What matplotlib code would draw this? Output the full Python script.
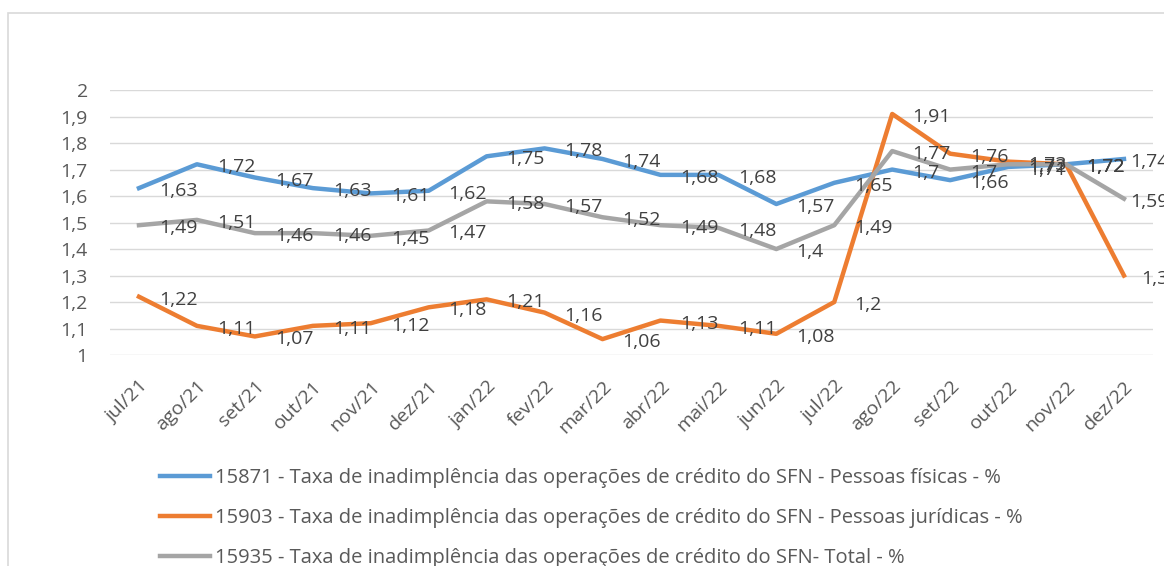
import matplotlib.pyplot as plt
from matplotlib.patches import Rectangle

plt.rcParams['font.family'] = ['Open Sans', 'DejaVu Sans']

## Data
meses = ['jul/21', 'ago/21', 'set/21', 'out/21', 'nov/21', 'dez/21',
         'jan/22', 'fev/22', 'mar/22', 'abr/22', 'mai/22', 'jun/22',
         'jul/22', 'ago/22', 'set/22', 'out/22', 'nov/22', 'dez/22']
pf = [1.63, 1.72, 1.67, 1.63, 1.61, 1.62, 1.75, 1.78, 1.74, 1.68, 1.68, 1.57,
      1.65, 1.70, 1.66, 1.71, 1.72, 1.74]
pj = [1.22, 1.11, 1.07, 1.11, 1.12, 1.18, 1.21, 1.16, 1.06, 1.13, 1.11, 1.08,
      1.20, 1.91, 1.76, 1.73, 1.72, 1.30]
total = [1.49, 1.51, 1.46, 1.46, 1.45, 1.47, 1.58, 1.57, 1.52, 1.49, 1.48, 1.40,
         1.49, 1.77, 1.70, 1.72, 1.72, 1.59]
nomes = ['15871 - Taxa de inadimplência das operações de crédito do SFN - Pessoas físicas - %',
         '15903 - Taxa de inadimplência das operações de crédito do SFN - Pessoas jurídicas - %',
         '15935 - Taxa de inadimplência das operações de crédito do SFN- Total - %']
cores = ['#5B9BD5', '#ED7D31', '#A5A5A5']
yticks = [1, 1.1, 1.2, 1.3, 1.4, 1.5, 1.6, 1.7, 1.8, 1.9, 2]

txt_cor = '#595959'
ftsz = 14 # font size
lgsz = 14.5 # legend font size
dx_last = [6, 17, 6] # Excel squeezes the last labels toward the point

def fmt(v):
    s = ('%.2f' % v).rstrip('0').rstrip('.')
    return s.replace('.', ',')

fig = plt.figure(figsize=(11.64, 5.66), dpi=100)
# chart area border (cut off on the right/bottom like the screenshot)
fig.patches.append(Rectangle((8/1164, -0.5), 2, 0.977 + 0.5, transform=fig.transFigure,
                             fill=False, edgecolor='#D9D9D9', lw=1.2, zorder=0))

ax = fig.add_axes([0.0945, 0.3728, 0.896, 0.468])
x = list(range(len(meses)))
for serie, nome, cor in zip([pf, pj, total], nomes, cores):
    ax.plot(x, serie, color=cor, lw=3.2, label=nome, solid_joinstyle='round', zorder=3)

# data labels to the right of each point
for serie, dl in zip([pf, pj, total], dx_last):
    for xi, v in zip(x, serie):
        dx = dl if xi == x[-1] else 20
        ax.annotate(fmt(v), (xi, v), xytext=(dx, -3), textcoords='offset pixels',
                    ha='left', va='center', fontsize=ftsz, color='#404040', zorder=5,
                    annotation_clip=False)

ax.set_xlim(-0.5, len(meses) - 0.5)
ax.set_ylim(1, 2)
ax.set_yticks(yticks)
ax.set_yticklabels([fmt(t) for t in yticks], fontsize=ftsz, color=txt_cor)
ax.set_xticks(x)
ax.set_xticklabels(meses, rotation=45, ha='right', rotation_mode='anchor',
                   fontsize=ftsz, color=txt_cor)
ax.tick_params(axis='both', length=0)
ax.tick_params(axis='y', pad=16)
ax.tick_params(axis='x', pad=16)
ax.grid(axis='y', color='#D9D9D9', lw=1)
ax.set_axisbelow(True)
for sp in ax.spines.values():
    sp.set_visible(False)

leg = ax.legend(loc='upper left', bbox_to_anchor=(160/1164, 1 - 468/566),
                bbox_transform=fig.transFigure, frameon=False, fontsize=lgsz,
                handlelength=2.5, handletextpad=0.25, labelspacing=1.0,
                borderaxespad=0, borderpad=0)
for t in leg.get_texts():
    t.set_color(txt_cor)

plt.savefig('out.png', dpi=100)
